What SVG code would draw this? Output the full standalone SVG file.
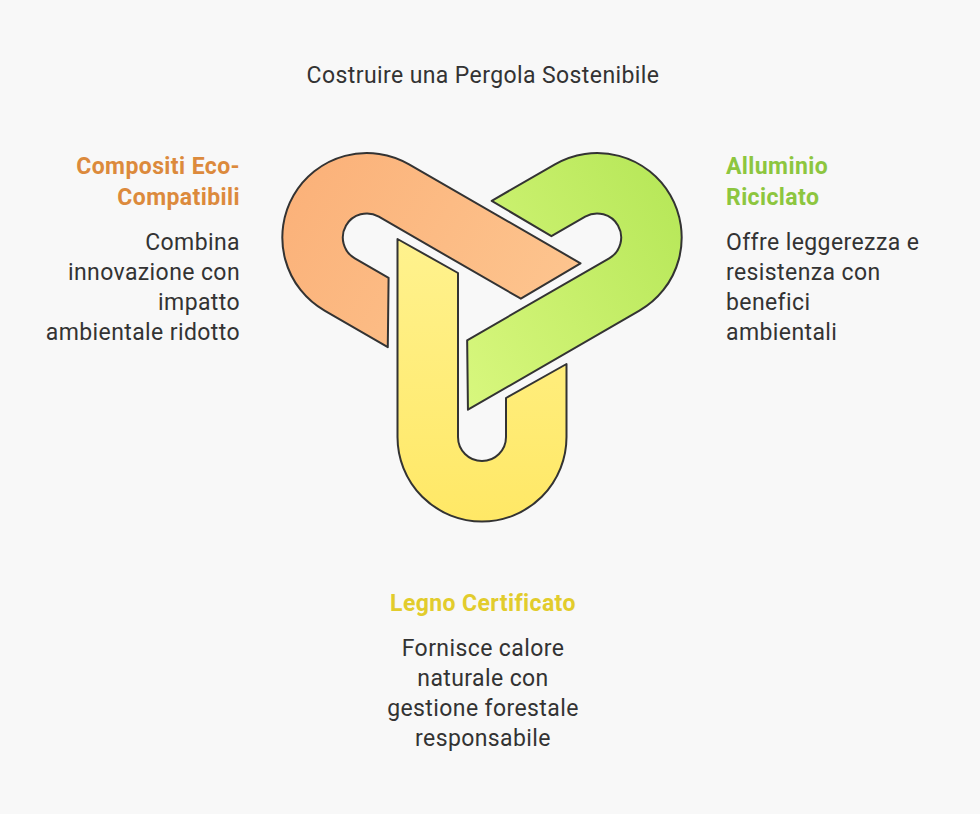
<svg xmlns="http://www.w3.org/2000/svg" width="980" height="814" viewBox="0 0 980 814">
<style>
text{font-family:Roboto,"Liberation Sans",sans-serif;fill:#333;font-size:23px;letter-spacing:0.4px}
.h{font-weight:bold}
.p{stroke:#333;stroke-width:2;stroke-linejoin:round}
</style>
<defs>
<linearGradient id="gy" x1="0" y1="0" x2="0" y2="1"><stop offset="0" stop-color="#fff28e"/><stop offset="1" stop-color="#ffe866"/></linearGradient>
<linearGradient id="go" x1="0" y1="0" x2="0" y2="1"><stop offset="0" stop-color="#fdc48e"/><stop offset="1" stop-color="#fbb27a"/></linearGradient>
<linearGradient id="gg" x1="0" y1="0" x2="0" y2="1"><stop offset="0" stop-color="#d8f77e"/><stop offset="1" stop-color="#b8e85a"/></linearGradient>
<path id="link" d="M-84.5,-65 L-24,-31 L-24,133 A24,24 0 0 0 24,133 L24,94 L84.5,60 L84.5,133 A84.5,84.5 0 0 1 -84.5,133 Z"/>
</defs>
<rect width="980" height="814" fill="#f8f8f8"/>
<text x="483" y="83" text-anchor="middle">Costruire una Pergola Sostenibile</text>
<g id="legno">
<use href="#link" class="p" fill="url(#gy)" transform="translate(482,304)"/>
<text class="h" x="483" y="611" text-anchor="middle" style="fill:#e2cc2c">Legno Certificato</text>
<text x="483" y="656" text-anchor="middle">Fornisce calore</text>
<text x="483" y="686" text-anchor="middle">naturale con</text>
<text x="483" y="716" text-anchor="middle">gestione forestale</text>
<text x="483" y="746" text-anchor="middle">responsabile</text>
</g>
<g id="compositi">
<use href="#link" class="p" fill="url(#go)" transform="translate(482,304) rotate(120)"/>
<text class="h" x="240" y="174" text-anchor="end" style="fill:#dc8a3c">Compositi Eco-</text>
<text class="h" x="240" y="205" text-anchor="end" style="fill:#dc8a3c">Compatibili</text>
<text x="240" y="250" text-anchor="end">Combina</text>
<text x="240" y="280" text-anchor="end">innovazione con</text>
<text x="240" y="310" text-anchor="end">impatto</text>
<text x="240" y="340" text-anchor="end">ambientale ridotto</text>
</g>
<g id="alluminio">
<use href="#link" class="p" fill="url(#gg)" transform="translate(482,304) rotate(240)"/>
<text class="h" x="726" y="174" style="fill:#8dc63f">Alluminio</text>
<text class="h" x="726" y="205" style="fill:#8dc63f">Riciclato</text>
<text x="726" y="250">Offre leggerezza e</text>
<text x="726" y="280">resistenza con</text>
<text x="726" y="310">benefici</text>
<text x="726" y="340">ambientali</text>
</g>
<g id="connectors"/>
</svg>
